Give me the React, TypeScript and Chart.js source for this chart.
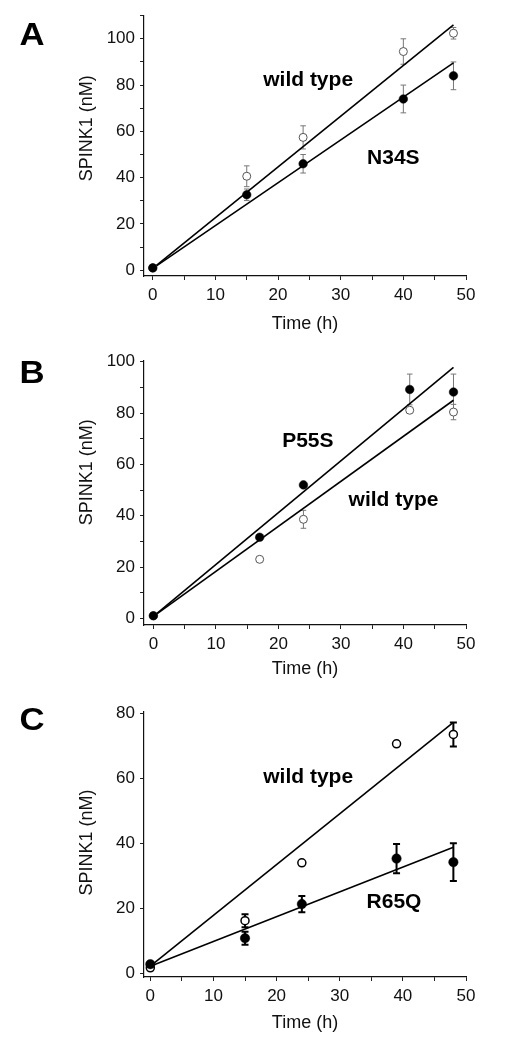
import React, { useEffect, useRef } from "react";
import { Chart, registerables } from "chart.js";
Chart.register(...registerables);

// ---------- data ----------
const fitTimes = [0, 48];

const timesA = [0, 15, 24, 40, 48];
const wildTypeA = [1, 40.6, 57.4, 94.5, 102.4];
const wildTypeAErr = [0, 4.5, 5, 5.5, 2.5];
const n34sA = [1, 32.6, 46, 74, 84];
const n34sAErr = [0, 2.5, 4, 6, 6];
const wildTypeAFit = [0.8, 106];
const n34sAFit = [0.8, 89.6];

const timesB = [0, 17, 24, 41, 48];
const p55sB = [1, 31.6, 52, 89.2, 88.2];
const p55sBErr = [0, 0, 0, 6, 7];
const wildTypeB = [1, 23, 38.6, 81.1, 80.4];
const wildTypeBErr = [0, 0, 3.5, 0, 3];
const p55sBFit = [0.8, 97.8];
const wildTypeBFit = [0.8, 85];

const timesC = [0, 15, 24, 39, 48];
const wildTypeC = [1.7, 16.2, 34, 70.6, 73.5];
const wildTypeCErr = [0, 2, 0, 0, 3.7];
const r65qC = [2.8, 10.8, 21.3, 35.3, 34.2];
const r65qCErr = [0, 2, 2.5, 4.5, 5.8];
const wildTypeCFit = [2.2, 77.2];
const r65qCFit = [2.2, 38.8];

const xTickValues = [0, 5, 10, 15, 20, 25, 30, 35, 40, 45, 50];
const yTicksA = [0, 10, 20, 30, 40, 50, 60, 70, 80, 90, 100, 110];
const yTicksB = [0, 10, 20, 30, 40, 50, 60, 70, 80, 90, 100];
const yTicksC = [0, 20, 40, 60, 80];

const xTitle = "Time (h)";
const yTitle = "SPINK1 (nM)";

// ---------- panel specs (layout + styling) ----------
type Series = {
  times: number[];
  values: number[];
  errs: number[];
  open: boolean;
};
type Panel = {
  letter: string;
  top: number;
  height: number;
  padTop: number;
  xAxisH: number;
  titlePadB: number;
  xMin: number;
  xMax: number;
  yMin: number;
  yMax: number;
  yTicks: number[];
  yLabelMax: number;
  series: Series[];
  fits: number[][];
  labels: { text: string; x: number; y: number }[];
  letterBaseline: number;
  yTitleY: number;
  heavy: boolean;
};

const panels: Panel[] = [
  {
    letter: "A", top: 0, height: 335, padTop: 12, xAxisH: 59, titlePadB: 0,
    xMin: -1.4, xMax: 50, yMin: -2.5, yMax: 110.2, yTicks: yTicksA, yLabelMax: 100,
    series: [
      { times: timesA, values: wildTypeA, errs: wildTypeAErr, open: true },
      { times: timesA, values: n34sA, errs: n34sAErr, open: false },
    ],
    fits: [wildTypeAFit, n34sAFit],
    labels: [
      { text: "wild type", x: 24.8, y: 79.4 },
      { text: "N34S", x: 38.4, y: 46.1 },
    ],
    letterBaseline: 45, yTitleY: 128.3, heavy: false,
  },
  {
    letter: "B", top: 335, height: 345, padTop: 26, xAxisH: 55, titlePadB: 0,
    xMin: -1.5, xMax: 50, yMin: -2.6, yMax: 100.3, yTicks: yTicksB, yLabelMax: 100,
    series: [
      { times: timesB, values: wildTypeB, errs: wildTypeBErr, open: true },
      { times: timesB, values: p55sB, errs: p55sBErr, open: false },
    ],
    fits: [p55sBFit, wildTypeBFit],
    labels: [
      { text: "P55S", x: 24.7, y: 66.8 },
      { text: "wild type", x: 38.4, y: 43.7 },
    ],
    letterBaseline: 48.3, yTitleY: 137.3, heavy: false,
  },
  {
    letter: "C", top: 680, height: 370, padTop: 32, xAxisH: 73, titlePadB: 15.7,
    xMin: -1.0, xMax: 50, yMin: -1.14, yMax: 80.4, yTicks: yTicksC, yLabelMax: 80,
    series: [
      { times: timesC, values: wildTypeC, errs: wildTypeCErr, open: true },
      { times: timesC, values: r65qC, errs: r65qCErr, open: false },
    ],
    fits: [wildTypeCFit, r65qCFit],
    labels: [
      { text: "wild type", x: 25, y: 58.6 },
      { text: "R65Q", x: 38.6, y: 20.0 },
    ],
    letterBaseline: 49.5, yTitleY: 162.5, heavy: true,
  },
];

const FONT = "'Liberation Sans', Arial, Helvetica, sans-serif";
const TEXT = "#111";

function makeConfig(p: Panel): any {
  const errColor = p.heavy ? "#000" : "#777";
  const errWidth = p.heavy ? 2 : 1;
  const capHalf = p.heavy ? 3.5 : 2.8;

  const datasets: any[] = [];
  p.fits.forEach((f) => {
    datasets.push({
      data: fitTimes.map((t, i) => ({ x: t, y: f[i] })),
      showLine: true,
      borderColor: "#000",
      borderWidth: 1.6,
      pointRadius: 0,
      fill: false,
      order: 3,
    });
  });
  p.series.forEach((s) => {
    datasets.push({
      data: s.times.map((t, i) => ({ x: t, y: s.values[i] })),
      errs: s.errs,
      isPoints: true,
      showLine: false,
      pointStyle: "circle",
      pointRadius: s.open ? 4 : p.heavy ? 4.7 : 4.3,
      pointBackgroundColor: s.open ? "#fff" : "#000",
      pointBorderColor: s.open ? (p.heavy ? "#000" : "#555") : "#000",
      pointBorderWidth: s.open ? (p.heavy ? 1.5 : 1) : 0.5,
      order: s.open ? 2 : 1,
    });
  });

  const decor = {
    id: "decor",
    beforeDatasetsDraw(chart: any) {
      const ctx = chart.ctx;
      const xs = chart.scales.x;
      const ys = chart.scales.y;
      ctx.save();
      ctx.strokeStyle = errColor;
      ctx.lineWidth = errWidth;
      chart.data.datasets.forEach((ds: any) => {
        if (!ds.isPoints) return;
        ds.data.forEach((pt: any, i: number) => {
          const e = ds.errs[i];
          if (!e) return;
          const px = xs.getPixelForValue(pt.x);
          const y1 = ys.getPixelForValue(pt.y + e);
          const y2 = ys.getPixelForValue(pt.y - e);
          ctx.beginPath();
          ctx.moveTo(px, y1);
          ctx.lineTo(px, y2);
          ctx.moveTo(px - capHalf, y1);
          ctx.lineTo(px + capHalf, y1);
          ctx.moveTo(px - capHalf, y2);
          ctx.lineTo(px + capHalf, y2);
          ctx.stroke();
        });
      });
      ctx.restore();
    },
    afterDraw(chart: any) {
      const ctx = chart.ctx;
      const xs = chart.scales.x;
      const ys = chart.scales.y;
      ctx.save();
      ctx.fillStyle = "#000";
      ctx.textAlign = "center";
      ctx.textBaseline = "alphabetic";
      ctx.font = `bold 21px ${FONT}`;
      p.labels.forEach((l) => {
        ctx.fillText(l.text, xs.getPixelForValue(l.x), ys.getPixelForValue(l.y));
      });
      // panel letter
      ctx.textAlign = "left";
      ctx.font = `bold 31px ${FONT}`;
      ctx.save();
      ctx.translate(19.5, p.letterBaseline);
      ctx.scale(1.12, 1);
      ctx.fillText(p.letter, 0, 0);
      ctx.restore();
      // y title
      ctx.fillStyle = TEXT;
      ctx.font = `18px ${FONT}`;
      ctx.textAlign = "center";
      ctx.textBaseline = "middle";
      ctx.translate(86.7, p.yTitleY);
      ctx.rotate(-Math.PI / 2);
      ctx.fillText(yTitle, 0, 0);
      ctx.restore();
    },
  };

  return {
    type: "scatter",
    data: { datasets },
    plugins: [decor],
    options: {
      animation: false,
      responsive: false,
      devicePixelRatio: 1,
      events: [],
      layout: { padding: { left: 0, right: 62, top: p.padTop, bottom: 0 } },
      plugins: { legend: { display: false }, tooltip: { enabled: false } },
      scales: {
        x: {
          type: "linear",
          position: "bottom",
          min: p.xMin,
          max: p.xMax,
          afterBuildTicks: (s: any) => {
            s.ticks = xTickValues.map((v) => ({ value: v }));
          },
          afterFit: (s: any) => {
            s.height = p.xAxisH;
          },
          ticks: {
            autoSkip: false,
            maxRotation: 0,
            padding: 5,
            color: TEXT,
            font: { family: FONT, size: 17 },
            callback: (v: any) => (v % 10 === 0 ? String(v) : ""),
          },
          grid: {
            display: true,
            drawOnChartArea: false,
            drawTicks: true,
            tickLength: 4,
            color: "#222",
            lineWidth: 1,
          },
          border: { display: true, color: "#111", width: 1.2 },
          title: {
            display: true,
            text: xTitle,
            color: TEXT,
            font: { family: FONT, size: 18 },
            padding: { top: 0, bottom: p.titlePadB },
          },
        },
        y: {
          type: "linear",
          position: "left",
          min: p.yMin,
          max: p.yMax,
          afterBuildTicks: (s: any) => {
            s.ticks = p.yTicks.map((v) => ({ value: v }));
          },
          afterFit: (s: any) => {
            s.width = 144;
          },
          ticks: {
            autoSkip: false,
            padding: 5,
            color: TEXT,
            font: { family: FONT, size: 17 },
            callback: (v: any) => (v % 20 === 0 && v <= p.yLabelMax ? String(v) : ""),
          },
          grid: {
            display: true,
            drawOnChartArea: false,
            drawTicks: true,
            tickLength: 4,
            color: "#222",
            lineWidth: 1,
          },
          border: { display: true, color: "#111", width: 1.2 },
          title: { display: false },
        },
      },
    },
  };
}

function PanelChart({ panel }: { panel: Panel }) {
  const ref = useRef<HTMLCanvasElement | null>(null);
  useEffect(() => {
    if (!ref.current) return;
    const chart = new Chart(ref.current, makeConfig(panel));
    return () => chart.destroy();
  }, [panel]);
  return (
    <canvas
      ref={ref}
      width={528}
      height={panel.height}
      style={{
        position: "absolute",
        left: 0,
        top: panel.top,
        width: 528,
        height: panel.height,
        display: "block",
      }}
    />
  );
}

export default function App() {
  return (
    <div
      style={{
        position: "absolute",
        left: 0,
        top: 0,
        width: 528,
        height: 1050,
        background: "#fff",
        overflow: "hidden",
      }}
    >
      {panels.map((p) => (
        <PanelChart key={p.letter} panel={p} />
      ))}
    </div>
  );
}
